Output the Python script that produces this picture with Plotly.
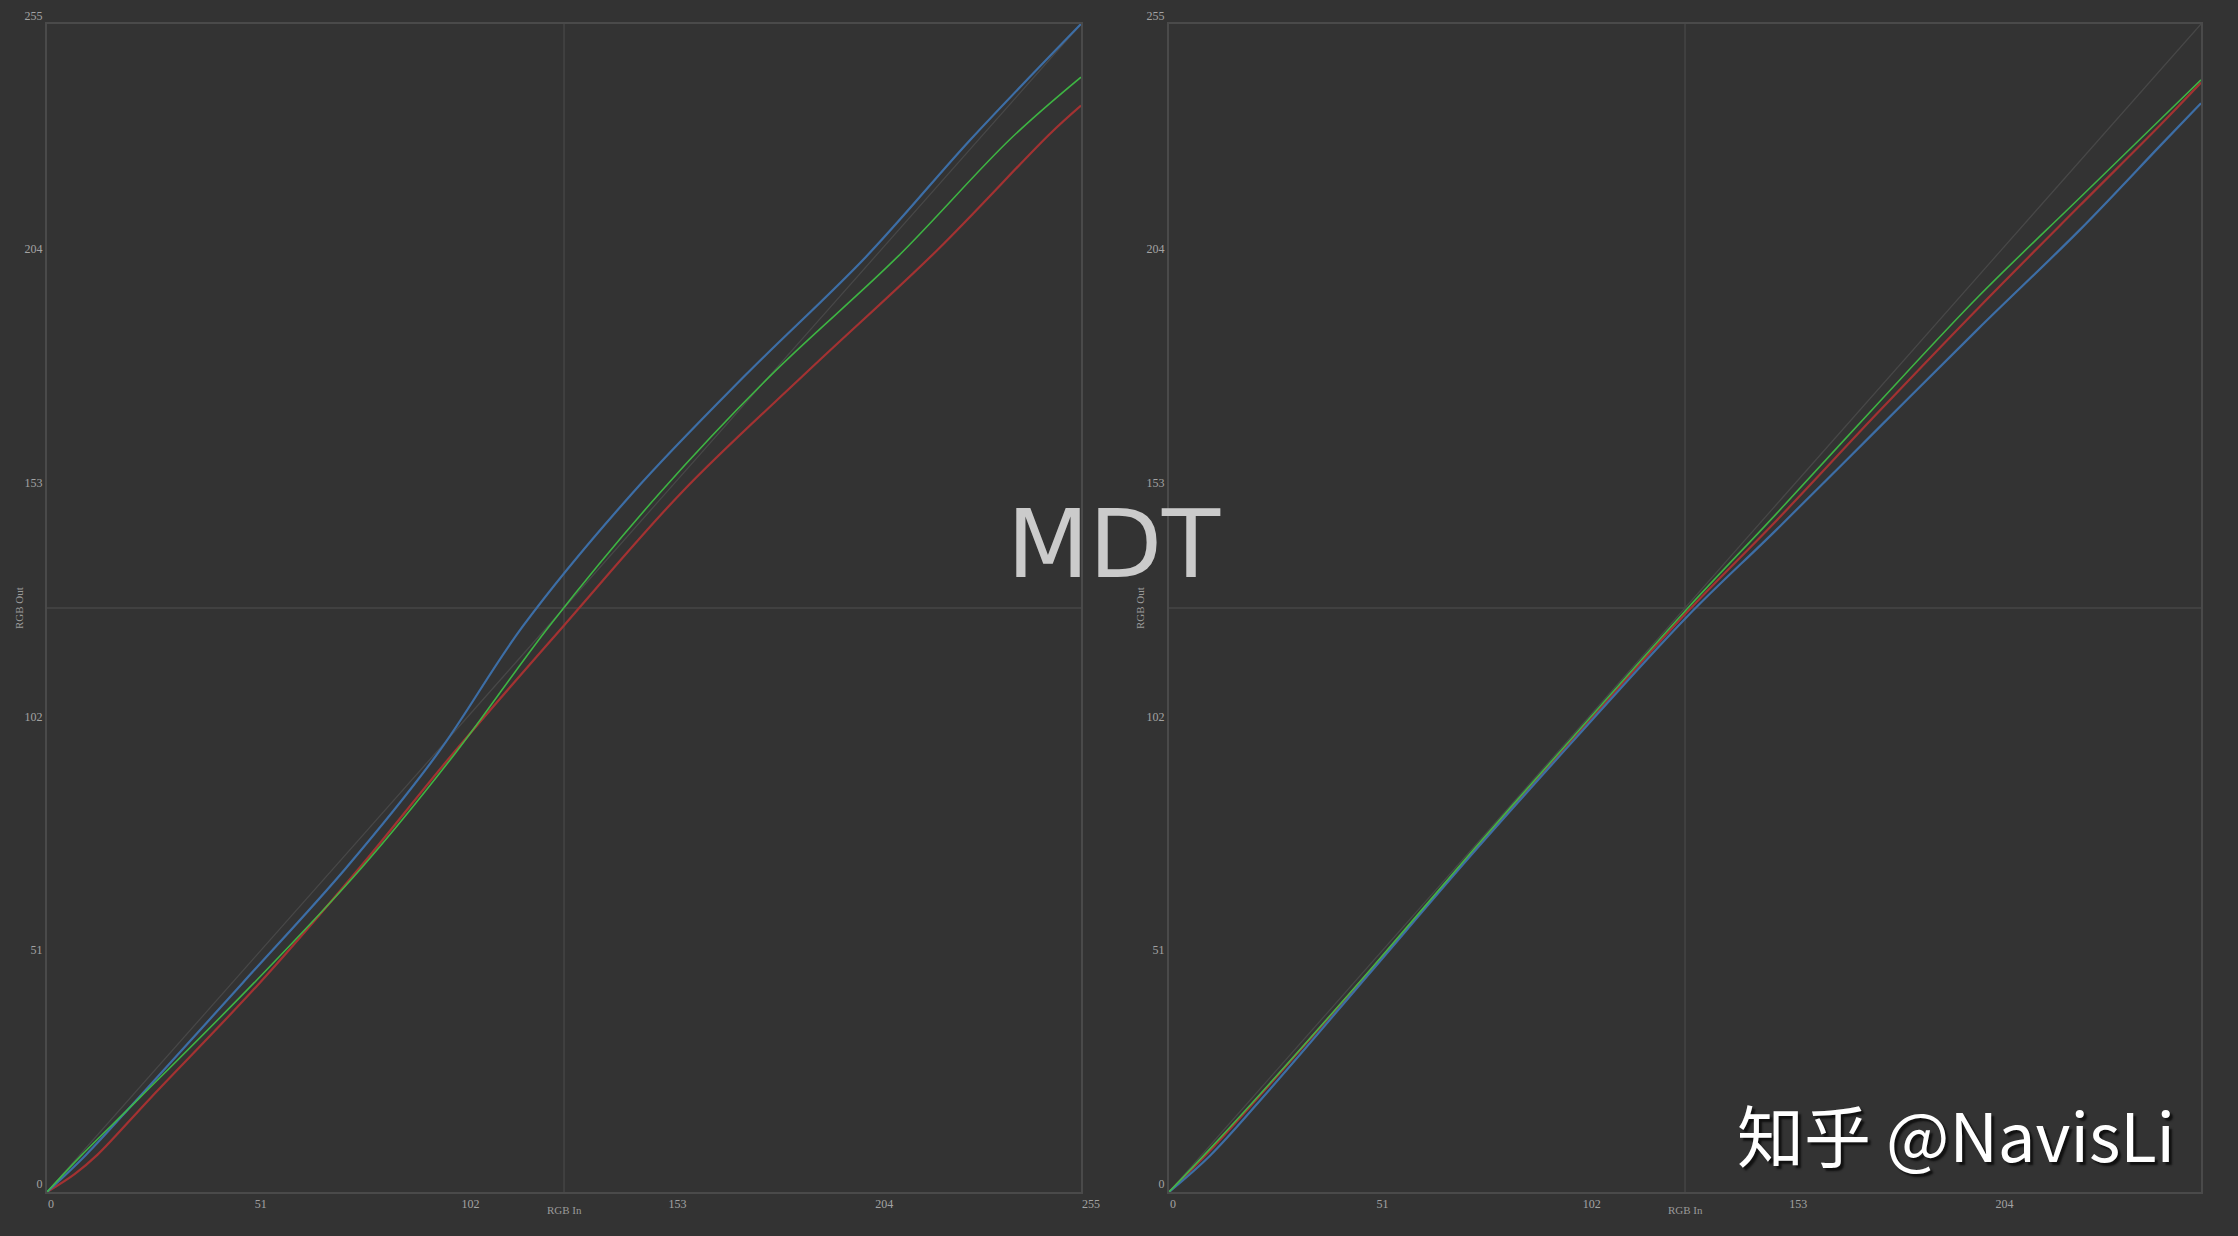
import plotly.graph_objects as go

# ---------------- data ----------------
tick_vals = [0, 51, 102, 153, 204, 255]
tick_text = ["0", "51", "102", "153", "204", "255"]
right_x_tick_vals = [0, 51, 102, 153, 204]

diag_in = [0, 255]
diag_out = [0, 255]

# left chart
L_red_in = [0, 6.8, 12.4, 25.6, 52.5, 77.1, 100.2, 127.5, 156.8, 188, 219.4, 247.3, 255]
L_red_out = [0, 3.9, 8.1, 20.6, 45.7, 70.8, 95.8, 123.7, 153, 179.5, 205.5, 231, 237.2]
L_green_in = [0, 8.6, 22.9, 51.1, 77.6, 100.7, 124, 151, 178.5, 209.8, 237.7, 255]
L_green_out = [0, 8.1, 20.6, 45.7, 70.8, 95.8, 123.7, 152.5, 178.3, 204.2, 230, 243.4]
L_blue_in = [0, 9.6, 22.6, 48.3, 73.8, 96.4, 117.5, 144.3, 172.2, 202, 228, 255]
L_blue_out = [0, 8.1, 20.6, 45.7, 70.8, 95.8, 123.7, 152.5, 178.3, 204.2, 230, 255]

# right chart
R_red_in = [0, 10, 25, 50, 75, 100, 128, 150, 175, 200, 225, 245, 255]
R_red_out = [0, 8.9, 23.6, 48.6, 74.2, 99, 126.6, 146.5, 170, 193, 215.3, 233, 242.2]
R_green_in = [0, 10, 25, 50, 75, 100, 128, 150, 175, 200, 225, 245, 255]
R_green_out = [0, 9.3, 23.8, 48.8, 74.5, 99.5, 127.3, 148, 172, 195.5, 217, 234.2, 242.8]
R_blue_in = [0, 10, 25, 50, 75, 100, 128, 150, 175, 200, 225, 245, 255]
R_blue_out = [0, 7.8, 22.5, 48.2, 73.9, 98.6, 125.6, 144.5, 166.5, 188.5, 210, 228.5, 237.7]

# ---------------- styling ----------------
BG = "#333333"
RED = "#a33232"
GREEN = "#3fbf45"
BLUE = "#3d6ea6"
DIAG = "#484848"
FRAME = "#4a4a4a"
TICK = "#a3a3a3"

W, H = 2238, 1236
OFF = 8  # page offset compensation (pixels)


def px(x):
    return (x - OFF) / W


def py(y):
    return 1 - (y - OFF) / H


fig = go.Figure()


def add_panel(xa, ya, red, green, blue):
    fig.add_trace(go.Scatter(x=diag_in, y=diag_out, mode="lines",
                             line=dict(color=DIAG, width=1.2),
                             xaxis=xa, yaxis=ya, hoverinfo="skip"))
    fig.add_trace(go.Scatter(x=red[0], y=red[1], mode="lines", line_shape="spline",
                             line=dict(color=RED, width=2.2), xaxis=xa, yaxis=ya))
    fig.add_trace(go.Scatter(x=blue[0], y=blue[1], mode="lines", line_shape="spline",
                             line=dict(color=BLUE, width=2.2), xaxis=xa, yaxis=ya))
    fig.add_trace(go.Scatter(x=green[0], y=green[1], mode="lines", line_shape="spline",
                             line=dict(color=GREEN, width=1.6), opacity=0.92,
                             xaxis=xa, yaxis=ya))


add_panel("x", "y", (L_red_in, L_red_out), (L_green_in, L_green_out), (L_blue_in, L_blue_out))
add_panel("x2", "y2", (R_red_in, R_red_out), (R_green_in, R_green_out), (R_blue_in, R_blue_out))

ydom = [py(1192), py(24)]

tickfont = dict(family="Liberation Serif", size=12, color=TICK)

xcommon = dict(range=[0, 255], showgrid=False, zeroline=False, showline=True,
               linecolor=FRAME, linewidth=2, mirror=True, ticks="", automargin=False,
               tickfont=tickfont, ticklabelposition="outside right")
ycommon = dict(range=[0, 255], showgrid=False, zeroline=False, showline=True,
               linecolor=FRAME, linewidth=2, mirror=True, ticks="", automargin=False,
               tickmode="array", tickvals=tick_vals, ticktext=tick_text,
               tickfont=tickfont, ticklabelposition="outside top")

fig.update_layout(
    width=W, height=H,
    paper_bgcolor=BG, plot_bgcolor=BG,
    margin=dict(l=0, r=0, t=0, b=0, autoexpand=False),
    showlegend=False,
    xaxis=dict(domain=[px(47), px(1081)], anchor="y", tickmode="array",
               tickvals=tick_vals, ticktext=tick_text, **xcommon),
    yaxis=dict(domain=ydom, anchor="x", **ycommon),
    xaxis2=dict(domain=[px(1169), px(2201)], anchor="y2", tickmode="array",
                tickvals=right_x_tick_vals,
                ticktext=[tick_text[tick_vals.index(v)] for v in right_x_tick_vals],
                **xcommon),
    yaxis2=dict(domain=ydom, anchor="x2", **ycommon),
)

# centre grid lines
for xr, yr in (("x", "y"), ("x2", "y2")):
    fig.add_shape(type="line", xref=xr, yref=yr, x0=127.5, x1=127.5, y0=0, y1=255,
                  line=dict(color="#474747", width=1.3), layer="below")
    fig.add_shape(type="line", xref=xr, yref=yr, x0=0, x1=255, y0=127.5, y1=127.5,
                  line=dict(color="#474747", width=1.3), layer="below")

# axis titles
titlefont = dict(family="Liberation Serif", size=11, color="#9a9a9a")
for xc in (564, 1685):
    fig.add_annotation(x=px(xc), y=py(1210), xref="paper", yref="paper",
                       xanchor="center", yanchor="middle",
                       text="RGB In", showarrow=False, font=titlefont)
for xc in (19, 1140):
    fig.add_annotation(x=px(xc), y=py(608), xref="paper", yref="paper",
                       xanchor="center", yanchor="middle",
                       text="RGB Out", textangle=-90, showarrow=False, font=titlefont)

# watermarks
fig.add_annotation(x=px(1114), y=py(544), xref="paper", yref="paper",
                   xanchor="center", yanchor="middle",
                   text="MDT", showarrow=False,
                   font=dict(family="DejaVu Sans", size=95, color="#cbcbcb"))
fig.add_annotation(x=px(1956), y=py(1132), xref="paper", yref="paper",
                   xanchor="center", yanchor="middle",
                   text="知乎 @NavisLi", showarrow=False,
                   font=dict(family="Noto Sans CJK SC", size=67, color="#ffffff",
                             shadow="3px 3px 2px #111111"))

fig.write_html(
    "out.html",
    post_script="document.documentElement.style.background='#333333';"
                "document.body.style.background='#333333';",
)
